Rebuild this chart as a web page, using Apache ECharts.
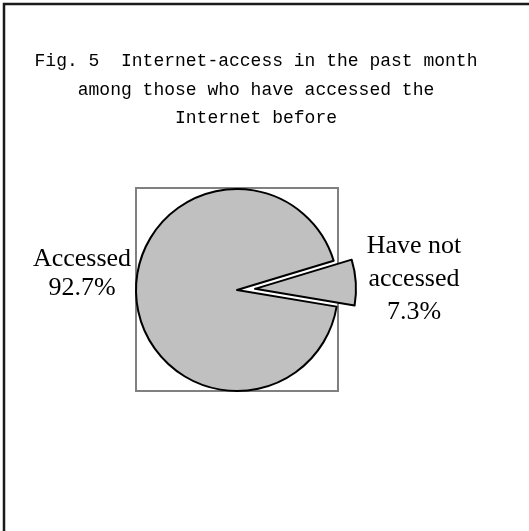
<!DOCTYPE html>
<html>
<head>
<meta charset="utf-8">
<script src="https://cdn.jsdelivr.net/npm/echarts@6/dist/echarts.min.js"></script>
<style>
  html, body { margin: 0; padding: 0; background: #fff; }
  #chart { width: 529px; height: 531px; }
</style>
</head>
<body>
<div id="chart"></div>
<script>
// Internet-access shares
const titleLines = [
  'Fig. 5  Internet-access in the past month',
  'among those who have accessed the',
  'Internet before'
];
const categories = ['Have not accessed', 'Accessed'];
const labelNames = [['Have not', 'accessed'], ['Accessed']];
const values = [7.3, 92.7];

const chart = echarts.init(document.getElementById('chart'), null, { renderer: 'canvas' });

// label block centres (the exploded slice's label is moved along with it afterwards)
const labelSpots = [
  { x: 396, y: 280, style: 'r' },
  { x: 82, y: 274, style: 'l' }
];

const labelFont = {
  fontFamily: 'Liberation Serif',
  fontSize: 26,
  color: '#000',
  width: 114,
  align: 'center'
};

chart.setOption({
  backgroundColor: '#ffffff',
  animation: false,
  title: {
    text: titleLines.join('\n'),
    left: 251,
    top: 42,
    textAlign: 'center',
    textStyle: {
      fontFamily: 'Liberation Mono',
      fontWeight: 'normal',
      fontSize: 18,
      lineHeight: 28.5,
      color: '#000'
    }
  },
  graphic: [
    {
      type: 'rect',
      shape: { x: 4, y: 4, width: 700, height: 700 },
      style: { fill: 'none', stroke: '#1a1a1a', lineWidth: 2.5 },
      silent: true
    },
    {
      type: 'rect',
      shape: { x: 136, y: 188, width: 202, height: 203 },
      style: { fill: 'none', stroke: '#808080', lineWidth: 2 },
      silent: true,
      z: -1
    }
  ],
  series: [{
    type: 'pie',
    center: [237, 290],
    radius: 101,
    startAngle: 16.8,
    clockwise: true,
    selectedMode: 'multiple',
    selectedOffset: 18,
    avoidLabelOverlap: false,
    itemStyle: { color: '#c0c0c0', borderColor: '#000', borderWidth: 2 },
    emphasis: { disabled: true },
    labelLine: { show: false },
    label: {
      show: true,
      position: 'outside',
      color: '#000',
      formatter: p => {
        const tag = labelSpots[p.dataIndex].style;
        return labelNames[p.dataIndex]
          .concat([p.value.toFixed(1) + '%'])
          .map(s => '{' + tag + '|' + s + '}')
          .join('\n');
      },
      rich: {
        l: Object.assign({ lineHeight: 29 }, labelFont),
        r: Object.assign({ lineHeight: 33 }, labelFont)
      }
    },
    labelLayout: p => {
      const s = labelSpots[p.dataIndex];
      const r = p.labelRect;
      return {
        dx: s.x - (r.x + r.width / 2),
        dy: s.y - (r.y + r.height / 2)
      };
    },
    data: categories.map((c, i) => ({ name: c, value: values[i], selected: i === 0 }))
  }]
});
</script>
</body>
</html>
